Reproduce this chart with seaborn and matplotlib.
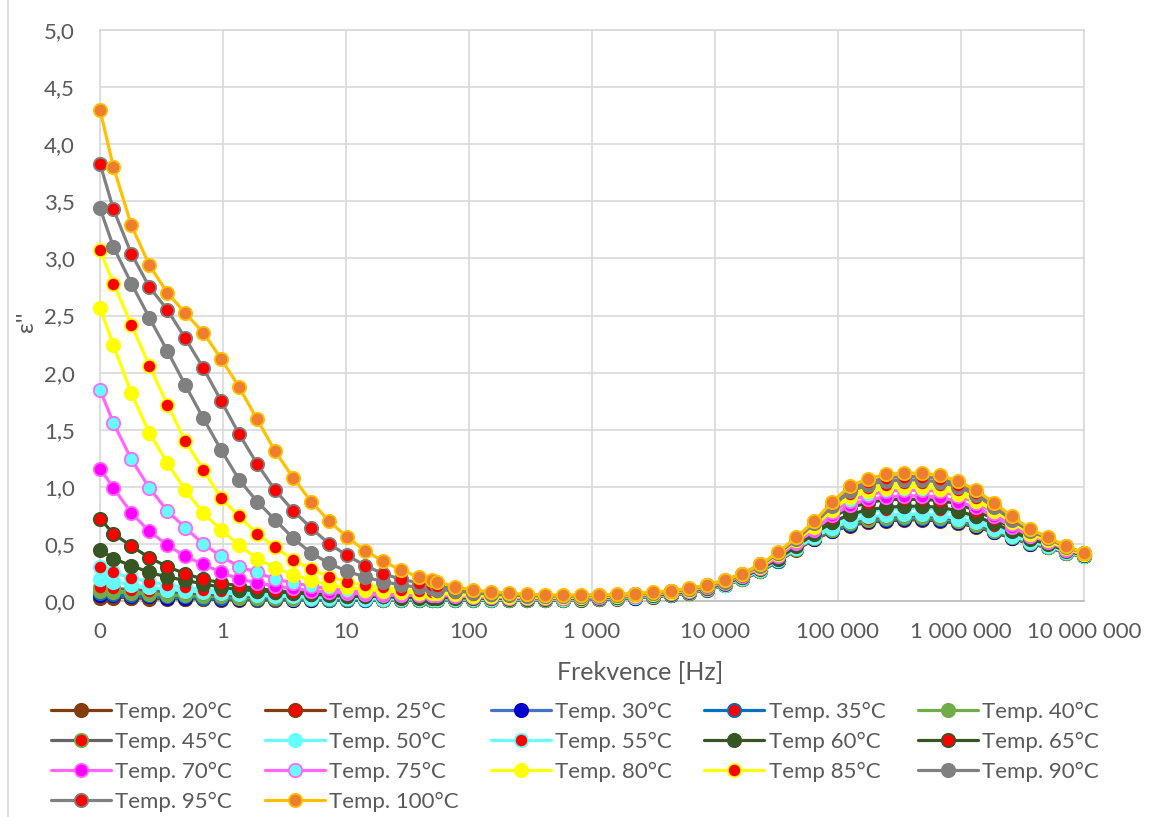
import matplotlib
matplotlib.use("Agg")
import matplotlib.pyplot as plt
import seaborn as sns
from matplotlib.lines import Line2D
from matplotlib.ticker import NullLocator

# ---------------- data ----------------
FREQ = [0.1, 0.1286, 0.18, 0.252, 0.3528, 0.4939, 0.6915, 0.968, 1.355, 1.897, 2.656, 3.719,
        5.206, 7.289, 10.2, 14.29, 20.0, 28.0, 39.2, 50.0, 54.9, 76.8, 107.6, 150.6, 210.8,
        295.1, 413.2, 578.4, 809.8, 1134, 1587, 2222, 3111, 4355, 6098, 8537, 11952, 16732,
        23425, 32796, 45914, 64280, 89992, 125989, 176384, 246938, 345713, 483999, 677599,
        948639, 1328094, 1859332, 2603065, 3644291, 5102041, 7142857, 10000000]

T20 = [0.03, 0.03, 0.03, 0.02, 0.02, 0.02, 0.02, 0.01, 0.01, 0.01, 0.01, 0.01, 0.01, 0.01, 0.01, 0.01, 0.01, 0.01, 0.01, 0.01, 0.01,
       0.010, 0.008, 0.007, 0.006, 0.006, 0.007, 0.009, 0.012, 0.016, 0.021, 0.028, 0.038, 0.051, 0.070, 0.100,
       0.14, 0.19, 0.26, 0.35, 0.45, 0.54, 0.61, 0.66, 0.69, 0.70, 0.71, 0.71, 0.70, 0.68, 0.65, 0.60, 0.55, 0.50, 0.47, 0.42, 0.39]
T25 = [0.04, 0.04, 0.03, 0.03, 0.03, 0.02, 0.02, 0.02, 0.02, 0.01, 0.01, 0.01, 0.01, 0.01, 0.01, 0.01, 0.01, 0.01, 0.01, 0.01, 0.01,
       0.010, 0.009, 0.008, 0.007, 0.007, 0.008, 0.010, 0.013, 0.017, 0.022, 0.029, 0.039, 0.052, 0.071, 0.100,
       0.140, 0.190, 0.261, 0.351, 0.451, 0.542, 0.613, 0.664, 0.695, 0.705, 0.715, 0.715, 0.705, 0.684, 0.654, 0.603, 0.552, 0.502, 0.471, 0.421, 0.390]
T30 = [0.05, 0.05, 0.04, 0.04, 0.03, 0.03, 0.03, 0.02, 0.02, 0.02, 0.02, 0.01, 0.01, 0.01, 0.01, 0.01, 0.01, 0.01, 0.01, 0.01, 0.01,
       0.011, 0.010, 0.009, 0.008, 0.008, 0.009, 0.011, 0.014, 0.018, 0.023, 0.030, 0.040, 0.053, 0.072, 0.101,
       0.141, 0.191, 0.261, 0.352, 0.453, 0.544, 0.616, 0.668, 0.699, 0.710, 0.720, 0.720, 0.710, 0.689, 0.658, 0.606, 0.555, 0.503, 0.472, 0.421, 0.391]
T35 = [0.07, 0.06, 0.05, 0.05, 0.04, 0.04, 0.03, 0.03, 0.03, 0.02, 0.02, 0.02, 0.02, 0.01, 0.01, 0.01, 0.01, 0.01, 0.01, 0.01, 0.01,
       0.012, 0.011, 0.010, 0.009, 0.009, 0.010, 0.012, 0.015, 0.019, 0.024, 0.031, 0.041, 0.054, 0.073, 0.102,
       0.142, 0.192, 0.263, 0.354, 0.455, 0.548, 0.622, 0.677, 0.708, 0.720, 0.730, 0.730, 0.719, 0.698, 0.665, 0.612, 0.559, 0.506, 0.474, 0.423, 0.391]
T40 = [0.09, 0.08, 0.07, 0.06, 0.05, 0.05, 0.04, 0.04, 0.03, 0.03, 0.03, 0.02, 0.02, 0.02, 0.02, 0.02, 0.01, 0.01, 0.01, 0.01, 0.01,
       0.013, 0.012, 0.011, 0.010, 0.010, 0.011, 0.013, 0.016, 0.020, 0.025, 0.032, 0.042, 0.055, 0.074, 0.103,
       0.142, 0.193, 0.264, 0.355, 0.457, 0.550, 0.626, 0.681, 0.713, 0.725, 0.735, 0.735, 0.724, 0.702, 0.669, 0.616, 0.561, 0.508, 0.475, 0.424, 0.392]
T45 = [0.12, 0.11, 0.10, 0.09, 0.08, 0.07, 0.06, 0.05, 0.04, 0.04, 0.03, 0.03, 0.03, 0.02, 0.02, 0.02, 0.02, 0.02, 0.02, 0.02, 0.02,
       0.016, 0.014, 0.013, 0.012, 0.012, 0.013, 0.015, 0.018, 0.022, 0.027, 0.034, 0.044, 0.057, 0.076, 0.105,
       0.143, 0.194, 0.265, 0.357, 0.459, 0.553, 0.632, 0.689, 0.722, 0.734, 0.744, 0.744, 0.733, 0.711, 0.677, 0.622, 0.566, 0.511, 0.477, 0.425, 0.392]
T50 = [0.19, 0.17, 0.14, 0.12, 0.10, 0.09, 0.08, 0.07, 0.06, 0.05, 0.04, 0.04, 0.03, 0.03, 0.03, 0.02, 0.02, 0.02, 0.02, 0.02, 0.02,
       0.018, 0.016, 0.015, 0.014, 0.014, 0.015, 0.016, 0.019, 0.023, 0.028, 0.035, 0.045, 0.058, 0.077, 0.106,
       0.14, 0.20, 0.27, 0.36, 0.46, 0.56, 0.64, 0.70, 0.74, 0.75, 0.76, 0.76, 0.75, 0.72, 0.69, 0.63, 0.57, 0.52, 0.48, 0.43, 0.39]
T55 = [0.30, 0.25, 0.20, 0.17, 0.14, 0.12, 0.10, 0.09, 0.08, 0.07, 0.06, 0.05, 0.04, 0.04, 0.03, 0.03, 0.03, 0.03, 0.03, 0.03, 0.03,
       0.025, 0.022, 0.020, 0.019, 0.018, 0.019, 0.020, 0.023, 0.027, 0.032, 0.039, 0.049, 0.062, 0.081, 0.110,
       0.15, 0.20, 0.27, 0.37, 0.48, 0.58, 0.67, 0.74, 0.78, 0.80, 0.81, 0.81, 0.80, 0.77, 0.73, 0.66, 0.60, 0.53, 0.49, 0.43, 0.40]
T60 = [0.45, 0.37, 0.31, 0.25, 0.21, 0.18, 0.15, 0.12, 0.10, 0.09, 0.08, 0.07, 0.06, 0.05, 0.04, 0.04, 0.04, 0.03, 0.03, 0.03, 0.03,
       0.028, 0.025, 0.023, 0.021, 0.020, 0.021, 0.022, 0.025, 0.029, 0.034, 0.041, 0.051, 0.064, 0.083, 0.112,
       0.15, 0.21, 0.28, 0.37, 0.48, 0.59, 0.69, 0.76, 0.80, 0.82, 0.83, 0.83, 0.82, 0.79, 0.74, 0.68, 0.61, 0.54, 0.50, 0.44, 0.40]
T65 = [0.72, 0.59, 0.48, 0.38, 0.30, 0.24, 0.19, 0.16, 0.13, 0.11, 0.09, 0.08, 0.07, 0.06, 0.05, 0.05, 0.04, 0.04, 0.04, 0.04, 0.04,
       0.035, 0.030, 0.027, 0.025, 0.024, 0.024, 0.025, 0.028, 0.032, 0.037, 0.044, 0.055, 0.068, 0.088, 0.118,
       0.16, 0.21, 0.29, 0.39, 0.50, 0.61, 0.73, 0.82, 0.86, 0.89, 0.89, 0.89, 0.88, 0.85, 0.79, 0.72, 0.64, 0.56, 0.51, 0.45, 0.40]
T70 = [1.16, 0.99, 0.77, 0.61, 0.49, 0.39, 0.32, 0.25, 0.19, 0.16, 0.13, 0.11, 0.09, 0.08, 0.07, 0.06, 0.05, 0.05, 0.05, 0.05, 0.05,
       0.042, 0.036, 0.032, 0.029, 0.027, 0.027, 0.028, 0.031, 0.035, 0.040, 0.047, 0.058, 0.071, 0.091, 0.121,
       0.16, 0.22, 0.29, 0.39, 0.51, 0.62, 0.75, 0.84, 0.89, 0.91, 0.92, 0.92, 0.91, 0.87, 0.82, 0.74, 0.65, 0.57, 0.52, 0.45, 0.41]
T75 = [1.85, 1.56, 1.24, 0.99, 0.79, 0.64, 0.50, 0.39, 0.30, 0.25, 0.19, 0.16, 0.13, 0.11, 0.09, 0.08, 0.07, 0.06, 0.06, 0.06, 0.06,
       0.050, 0.042, 0.036, 0.033, 0.031, 0.031, 0.032, 0.034, 0.038, 0.043, 0.050, 0.062, 0.075, 0.095, 0.125,
       0.17, 0.22, 0.30, 0.40, 0.52, 0.64, 0.78, 0.88, 0.93, 0.96, 0.97, 0.97, 0.96, 0.92, 0.86, 0.77, 0.67, 0.58, 0.53, 0.46, 0.41]
T80 = [2.57, 2.24, 1.82, 1.47, 1.21, 0.97, 0.77, 0.62, 0.49, 0.37, 0.29, 0.23, 0.18, 0.14, 0.12, 0.10, 0.09, 0.08, 0.07, 0.07, 0.07,
       0.058, 0.048, 0.042, 0.038, 0.035, 0.034, 0.035, 0.037, 0.041, 0.046, 0.053, 0.065, 0.078, 0.098, 0.128,
       0.17, 0.23, 0.30, 0.41, 0.53, 0.65, 0.80, 0.91, 0.96, 0.99, 1.00, 1.00, 0.98, 0.94, 0.88, 0.79, 0.69, 0.59, 0.53, 0.46, 0.41]
T85 = [3.07, 2.78, 2.42, 2.06, 1.72, 1.40, 1.15, 0.90, 0.74, 0.59, 0.47, 0.36, 0.28, 0.21, 0.17, 0.14, 0.12, 0.10, 0.09, 0.08, 0.08,
       0.068, 0.056, 0.048, 0.042, 0.039, 0.038, 0.038, 0.040, 0.044, 0.049, 0.056, 0.068, 0.081, 0.101, 0.131,
       0.17, 0.23, 0.31, 0.41, 0.54, 0.67, 0.82, 0.94, 0.99, 1.02, 1.03, 1.03, 1.02, 0.97, 0.90, 0.81, 0.70, 0.60, 0.54, 0.47, 0.41]
T90 = [3.44, 3.10, 2.78, 2.48, 2.19, 1.89, 1.60, 1.32, 1.06, 0.87, 0.71, 0.55, 0.42, 0.33, 0.26, 0.21, 0.17, 0.14, 0.12, 0.11, 0.10,
       0.090, 0.072, 0.060, 0.052, 0.046, 0.044, 0.043, 0.044, 0.047, 0.052, 0.059, 0.071, 0.084, 0.104, 0.134,
       0.17, 0.23, 0.31, 0.42, 0.54, 0.68, 0.83, 0.96, 1.02, 1.05, 1.06, 1.06, 1.04, 1.00, 0.93, 0.82, 0.71, 0.61, 0.55, 0.47, 0.42]
T95 = [3.83, 3.43, 3.04, 2.75, 2.55, 2.30, 2.04, 1.75, 1.46, 1.20, 0.97, 0.79, 0.64, 0.50, 0.40, 0.31, 0.24, 0.19, 0.16, 0.14, 0.13,
       0.105, 0.082, 0.068, 0.058, 0.051, 0.048, 0.047, 0.048, 0.051, 0.055, 0.062, 0.074, 0.087, 0.107, 0.137,
       0.18, 0.24, 0.32, 0.42, 0.55, 0.69, 0.85, 0.99, 1.04, 1.08, 1.09, 1.09, 1.07, 1.02, 0.95, 0.84, 0.73, 0.62, 0.55, 0.48, 0.42]
T100 = [4.30, 3.80, 3.29, 2.94, 2.70, 2.52, 2.35, 2.12, 1.87, 1.59, 1.31, 1.08, 0.87, 0.70, 0.56, 0.44, 0.35, 0.27, 0.21, 0.18, 0.17,
        0.125, 0.096, 0.080, 0.067, 0.058, 0.054, 0.052, 0.052, 0.055, 0.058, 0.065, 0.078, 0.090, 0.110, 0.140,
        0.18, 0.24, 0.32, 0.43, 0.56, 0.70, 0.87, 1.01, 1.07, 1.11, 1.12, 1.12, 1.10, 1.05, 0.97, 0.86, 0.74, 0.63, 0.56, 0.48, 0.42]

LABELS = ["Temp. 20°C", "Temp. 25°C", "Temp. 30°C", "Temp. 35°C", "Temp. 40°C",
          "Temp. 45°C", "Temp. 50°C", "Temp. 55°C", "Temp 60°C", "Temp. 65°C",
          "Temp. 70°C", "Temp. 75°C", "Temp. 80°C", "Temp 85°C", "Temp. 90°C",
          "Temp. 95°C", "Temp. 100°C"]
SERIES = [T20, T25, T30, T35, T40, T45, T50, T55, T60, T65, T70, T75, T80, T85, T90, T95, T100]

XTICKS = [0.1, 1, 10, 100, 1000, 10000, 100000, 1000000, 10000000]
XTICK_LABELS = ["0", "1", "10", "100", "1 000", "10 000", "100 000", "1 000 000", "10 000 000"]
YTICKS = [0.0, 0.5, 1.0, 1.5, 2.0, 2.5, 3.0, 3.5, 4.0, 4.5, 5.0]
YTICK_LABELS = ["0,0", "0,5", "1,0", "1,5", "2,0", "2,5", "3,0", "3,5", "4,0", "4,5", "5,0"]

# ---------------- styles (line colour, marker face, marker edge) ----------------
RED = "#FF0000"
STYLES = [
    ("#843C0C", "#843C0C", "#843C0C"),  # 20
    ("#843C0C", RED, "#843C0C"),        # 25
    ("#4472C4", "#0000CC", "#0000CC"),  # 30
    ("#0070C0", RED, "#0070C0"),        # 35
    ("#70AD47", "#70AD47", "#70AD47"),  # 40
    ("#646464", RED, "#70AD47"),        # 45
    ("#66FFFF", "#66FFFF", "#66FFFF"),  # 50
    ("#66FFFF", RED, "#66FFFF"),        # 55
    ("#375623", "#375623", "#375623"),  # 60
    ("#375623", RED, "#375623"),        # 65
    ("#FF66FF", "#FF00FF", "#FF66FF"),  # 70
    ("#FF66FF", "#66FFFF", "#FF66FF"),  # 75
    ("#FFFF00", "#FFFF00", "#FFFF00"),  # 80
    ("#FFFF00", RED, "#FFFF00"),        # 85
    ("#808080", "#808080", "#808080"),  # 90
    ("#808080", RED, "#808080"),        # 95
    ("#FFC000", "#ED7D31", "#FFC000"),  # 100
]

sns.set_theme(style="white")
plt.rcParams["font.family"] = ["Lato", "DejaVu Sans"]

W, H = 1151, 817
fig = plt.figure(figsize=(W / 100, H / 100), dpi=100)
L, R, T, B = 100, 1084, 30, 601
ax = fig.add_axes([L / W, 1 - B / H, (R - L) / W, (B - T) / H])
ax.set_xscale("log")

for i, (lab, vals, (lc, mfc, mec)) in enumerate(zip(LABELS, SERIES, STYLES)):
    sns.lineplot(x=FREQ, y=vals, ax=ax, color=lc, marker="o", markersize=9.6,
                 markerfacecolor=mfc, markeredgecolor=mec, markeredgewidth=1.3,
                 linewidth=2.3, label=lab, clip_on=False, sort=False,
                 estimator=None, zorder=3 + i)

ax.set_xlim(0.1, 1e7)
ax.set_ylim(0, 5)
ax.set_xticks(XTICKS)
ax.set_xticklabels(XTICK_LABELS)
ax.xaxis.set_minor_locator(NullLocator())
ax.set_yticks(YTICKS)
ax.set_yticklabels(YTICK_LABELS)
ax.grid(True, color="#D9D9D9", linewidth=1.2)
ax.set_axisbelow(True)
for s in ["left", "top", "right"]:
    ax.spines[s].set_color("#D9D9D9")
    ax.spines[s].set_linewidth(1.2)
ax.spines["bottom"].set_color("#BFBFBF")
ax.spines["bottom"].set_linewidth(1.3)
ax.tick_params(axis="both", length=0, labelsize=16, colors="#595959")
ax.tick_params(axis="x", pad=15)
ax.tick_params(axis="y", pad=18)
ax.set_xlabel("")
ax.set_ylabel("")

fig.text(640 / W, 1 - 673 / H, "Frekvence [Hz]", ha="center", va="center",
         fontsize=18, color="#595959")
fig.text(27 / W, 1 - 322 / H, "ε''", ha="center", va="center", rotation=90,
         fontsize=17, color="#595959")

handles, labels = ax.get_legend_handles_labels()
if ax.get_legend() is not None:
    ax.get_legend().remove()
order = [0, 5, 10, 15, 1, 6, 11, 16, 2, 7, 12, 3, 8, 13, 4, 9, 14]
fig.legend([handles[k] for k in order], [labels[k] for k in order], ncol=5,
           loc="upper left", bbox_to_anchor=(51 / W, 1 - 702 / H), frameon=False,
           fontsize=16, labelcolor="#595959", handlelength=2.7, handletextpad=0.2,
           columnspacing=1.45, labelspacing=0.44, borderaxespad=0, borderpad=0)

fig.add_artist(Line2D([8 / W, 8 / W], [0, 1], transform=fig.transFigure,
                      color="#D9D9D9", linewidth=1.2))

fig.savefig("out.png", dpi=100)
